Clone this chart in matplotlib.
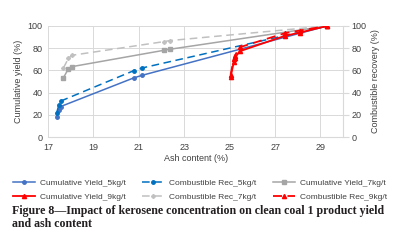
import matplotlib.pyplot as plt

# ash content (%) and values (%)
ash_5 = [17.38, 17.48, 17.56, 20.77, 21.15, 29.3]
yield_5 = [18.5, 24.5, 27.5, 53.2, 55.6, 100]
rec_5 = [21.9, 28.8, 32.4, 59.7, 62.2, 100]

ash_7 = [17.68, 17.9, 18.06, 22.11, 22.36, 29.3]
yield_7 = [53.4, 61.5, 63.4, 78.1, 79.0, 100]
rec_7 = [62.2, 70.9, 73.6, 85.9, 86.8, 100]

ash_9 = [25.04, 25.18, 25.22, 25.44, 27.42, 28.08, 29.3]
yield_9 = [54.0, 67.3, 70.9, 77.2, 91.0, 94.0, 100]
rec_9 = [56.0, 70.0, 73.0, 80.8, 93.4, 95.8, 100]

plt.rcParams['font.family'] = ['Liberation Sans', 'DejaVu Sans']

fig = plt.figure(figsize=(4, 2.47), dpi=100)
ax = fig.add_axes([0.12, 0.445, 0.738, 0.45])

c_blue = '#4472C4'
c_blue2 = '#0070C0'
c_gray = '#A5A5A5'
c_gray2 = '#C0C0C0'
c_red = '#FF0000'

h_y5, = ax.plot(ash_5, yield_5, '-', color=c_blue, marker='o', ms=2.5, lw=1.1, label='Cumulative Yield_5kg/t')
h_r5, = ax.plot(ash_5, rec_5, '--', color=c_blue2, marker='o', ms=2.5, lw=1.1, dashes=(5, 3), label='Combustible Rec_5kg/t')
h_y7, = ax.plot(ash_7, yield_7, '-', color=c_gray, marker='s', ms=3.5, lw=1.1, label='Cumulative Yield_7kg/t')
h_r7, = ax.plot(ash_7, rec_7, '--', color=c_gray2, marker='P', ms=2.5, lw=1.1, dashes=(5, 3), label='Combustible Rec_7kg/t')
h_y9, = ax.plot(ash_9, yield_9, '-', color=c_red, marker='^', ms=3, lw=1.3, label='Cumulative Yield_9kg/t')
h_r9, = ax.plot(ash_9, rec_9, '--', color=c_red, marker='^', ms=3, lw=1.3, dashes=(5, 3), label='Combustible Rec_9kg/t')

ax.set_xlim(17, 30)
ax.set_ylim(0, 100)
ax.set_xticks([17, 19, 21, 23, 25, 27, 29])
ax.set_yticks([0, 20, 40, 60, 80, 100])
ax.grid(True, color='#D9D9D9', lw=0.7)
ax.set_axisbelow(True)
for s in ax.spines.values():
    s.set_visible(False)
ax.spines['bottom'].set_visible(True)
ax.spines['bottom'].set_color('#D9D9D9')
ax.tick_params(length=0, labelsize=6.5, colors='#404040', pad=4)
ax.set_xlabel('Ash content (%)', fontsize=6.5, color='#404040', labelpad=2)
ax.set_ylabel('Cumulative yield (%)', fontsize=6.5, color='#404040', labelpad=3)

ax2 = ax.twinx()
ax2.set_ylim(0, 100)
ax2.set_yticks([0, 20, 40, 60, 80, 100])
for s in ax2.spines.values():
    s.set_visible(False)
ax2.spines['right'].set_visible(True)
ax2.spines['right'].set_color('#D9D9D9')
ax2.tick_params(length=4, color='#D9D9D9', labelsize=6.5, labelcolor='#404040', pad=2)
ax2.set_ylabel('Combustible recovery (%)', fontsize=6.5, color='#404040', labelpad=3)

handles = [h_y5, h_y9, h_r5, h_r7, h_y7, h_r9]
fig.legend(handles=handles, labels=[h.get_label() for h in handles], ncol=3,
           loc='center', bbox_to_anchor=(0.5, 0.232), fontsize=6, frameon=False,
           handlelength=2.6, handletextpad=0.6, columnspacing=2.0, labelspacing=0.75,
           labelcolor='#404040')

fig.text(0.03, 0.172, 'Figure 8\u2014Impact of kerosene concentration on clean coal 1 product yield\nand ash content',
         fontsize=8.6, fontweight='bold', family='Liberation Serif', color='#231F20',
         va='top', ha='left', linespacing=1.2)

fig.savefig('out.png', dpi=100)
